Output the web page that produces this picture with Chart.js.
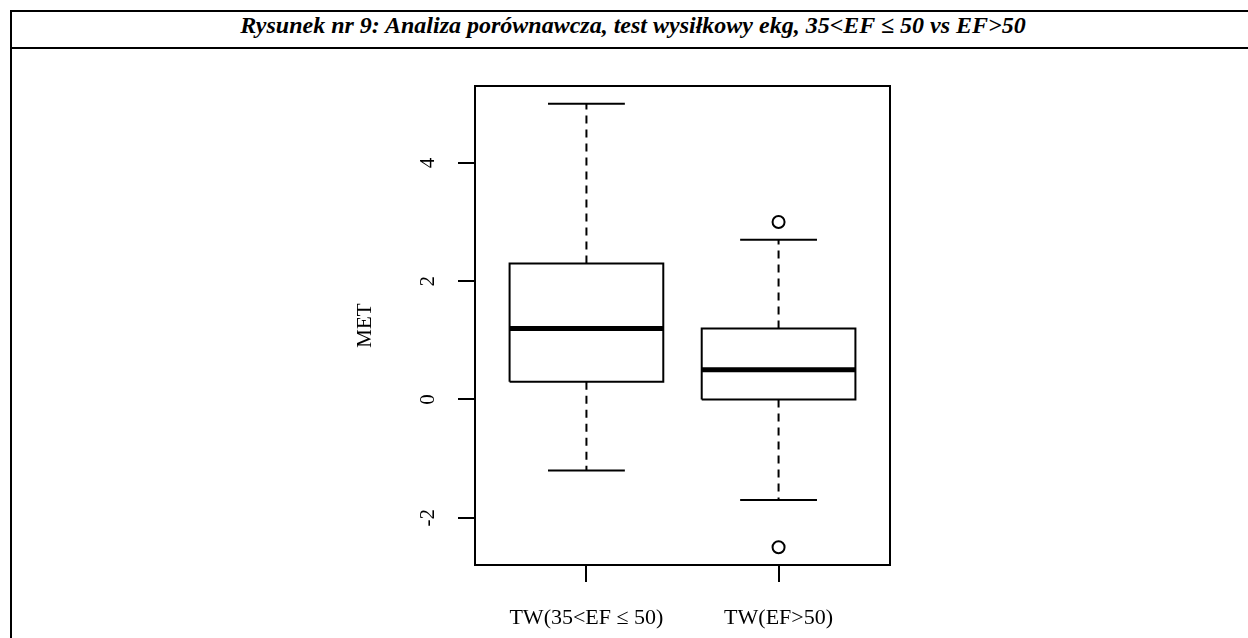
<!DOCTYPE html>
<html>
<head>
<meta charset="utf-8">
<script src="https://cdn.jsdelivr.net/npm/chart.js@4.4.1/dist/chart.umd.min.js"></script>
<style>
  html, body { margin: 0; padding: 0; background: #fff; }
  body { width: 1248px; height: 638px; position: relative; overflow: hidden; }
  .frame {
    position: absolute; left: 10px; top: 10px; right: 0; bottom: 0;
    border-left: 2px solid #000; border-top: 2px solid #000;
  }
  .frame .title {
    height: 35px; line-height: 36px; border-bottom: 2px solid #000;
    text-align: center; font: italic bold 24px 'Liberation Serif', serif; color: #000;
    padding-left: 6px;
  }
  #boxChart { position: absolute; left: 0; top: 0; }
</style>
</head>
<body>
<div class="frame"><div class="title">Rysunek nr 9: Analiza porównawcza, test wysiłkowy ekg, 35&lt;EF ≤ 50 vs EF&gt;50</div></div>
<canvas id="boxChart" width="1248" height="638"></canvas>
<script>
'use strict';

/* ── data ──────────────────────────────────────────────── */
const groups      = ['TW(35<EF \u2264 50)', 'TW(EF>50)'];
const whiskerLow  = [-1.2, -1.7];
const lowerQ      = [0.3, 0.0];
const medians     = [1.2, 0.5];
const upperQ      = [2.3, 1.2];
const whiskerHigh = [5.0, 2.7];
const outliers    = [[], [3.0, -2.5]];
const yTicks      = [-2, 0, 2, 4];
const yLabel      = 'MET';

const BOX_HALF    = 0.4;   // R boxplot width 0.8
const STAPLE_HALF = 0.2;   // staplewex 0.5
const FONT        = "'Liberation Serif', 'Times New Roman', serif";

/* ── build datasets from the arrays ────────────────────── */
function seg(points, width, dash) {
  return {
    data          : points,
    showLine      : true,
    borderColor   : '#000',
    borderWidth   : width,
    borderDash    : dash || [],
    borderCapStyle: 'butt',
    pointRadius   : 0,
    pointHoverRadius: 0,
    fill          : false,
  };
}

const datasets = [];
groups.forEach((g, i) => {
  const x = i + 1;
  // box
  datasets.push(seg([
    { x: x - BOX_HALF, y: lowerQ[i] }, { x: x + BOX_HALF, y: lowerQ[i] },
    { x: x + BOX_HALF, y: upperQ[i] }, { x: x - BOX_HALF, y: upperQ[i] },
    { x: x - BOX_HALF, y: lowerQ[i] },
  ], 2));
  // median
  datasets.push(seg([{ x: x - BOX_HALF, y: medians[i] }, { x: x + BOX_HALF, y: medians[i] }], 5));
  // whiskers
  datasets.push(seg([{ x: x, y: upperQ[i] }, { x: x, y: whiskerHigh[i] }], 2, [8, 6]));
  datasets.push(seg([{ x: x, y: lowerQ[i] }, { x: x, y: whiskerLow[i] }], 2, [8, 6]));
  // staples
  datasets.push(seg([{ x: x - STAPLE_HALF, y: whiskerHigh[i] }, { x: x + STAPLE_HALF, y: whiskerHigh[i] }], 2));
  datasets.push(seg([{ x: x - STAPLE_HALF, y: whiskerLow[i] }, { x: x + STAPLE_HALF, y: whiskerLow[i] }], 2));
  // outliers
  if (outliers[i].length) {
    datasets.push({
      data           : outliers[i].map(v => ({ x: x, y: v })),
      showLine       : false,
      pointStyle     : 'circle',
      pointRadius    : 6,
      pointBorderWidth: 2,
      borderColor    : '#000',
      backgroundColor: 'rgba(0,0,0,0)',
    });
  }
});

/* ── plot frame (R box around the plot region) ─────────── */
const plotFrame = {
  id: 'plotFrame',
  afterDatasetsDraw(chart) {
    const { ctx, chartArea: a } = chart;
    ctx.save();
    ctx.strokeStyle = '#000';
    ctx.lineWidth = 2;
    ctx.strokeRect(a.left, a.top, a.right - a.left, a.bottom - a.top);
    ctx.restore();
  },
};

new Chart(document.getElementById('boxChart'), {
  type: 'scatter',
  data: { datasets },
  plugins: [plotFrame],
  options: {
    responsive: false,
    animation : false,
    events    : [],
    layout    : { padding: { left: 300, right: 358, top: 86, bottom: 0 } },
    plugins   : { legend: { display: false }, tooltip: { enabled: false } },
    scales: {
      x: {
        type: 'linear',
        min : 0.42,
        max : 2.58,
        afterBuildTicks: (s) => { s.ticks = groups.map((g, i) => ({ value: i + 1 })); },
        afterFit: (s) => { s.height = 73; },
        border: { display: false },
        grid  : { drawOnChartArea: false, tickLength: 17, color: '#000', lineWidth: 2 },
        ticks : {
          autoSkip: false, minRotation: 0, maxRotation: 0, padding: 23,
          color: '#000', font: { family: FONT, size: 22 },
          callback: (v) => groups[Math.round(v) - 1],
        },
      },
      y: {
        type: 'linear',
        min : -2.8,
        max : 5.3,
        afterBuildTicks: (s) => { s.ticks = yTicks.map(v => ({ value: v })); },
        afterFit: (s) => { s.width = 175; },
        border: { display: false },
        grid  : { drawOnChartArea: false, tickLength: 17, color: '#000', lineWidth: 2 },
        ticks : {
          minRotation: 90, maxRotation: 90, crossAlign: 'center', padding: 21,
          color: '#000', font: { family: FONT, size: 21 },
          callback: (v) => String(v),
        },
        title: {
          display: true, text: yLabel, color: '#000',
          font: { family: FONT, size: 21 }, padding: { top: 53, bottom: 0 },
        },
      },
    },
  },
});
</script>
</body>
</html>
